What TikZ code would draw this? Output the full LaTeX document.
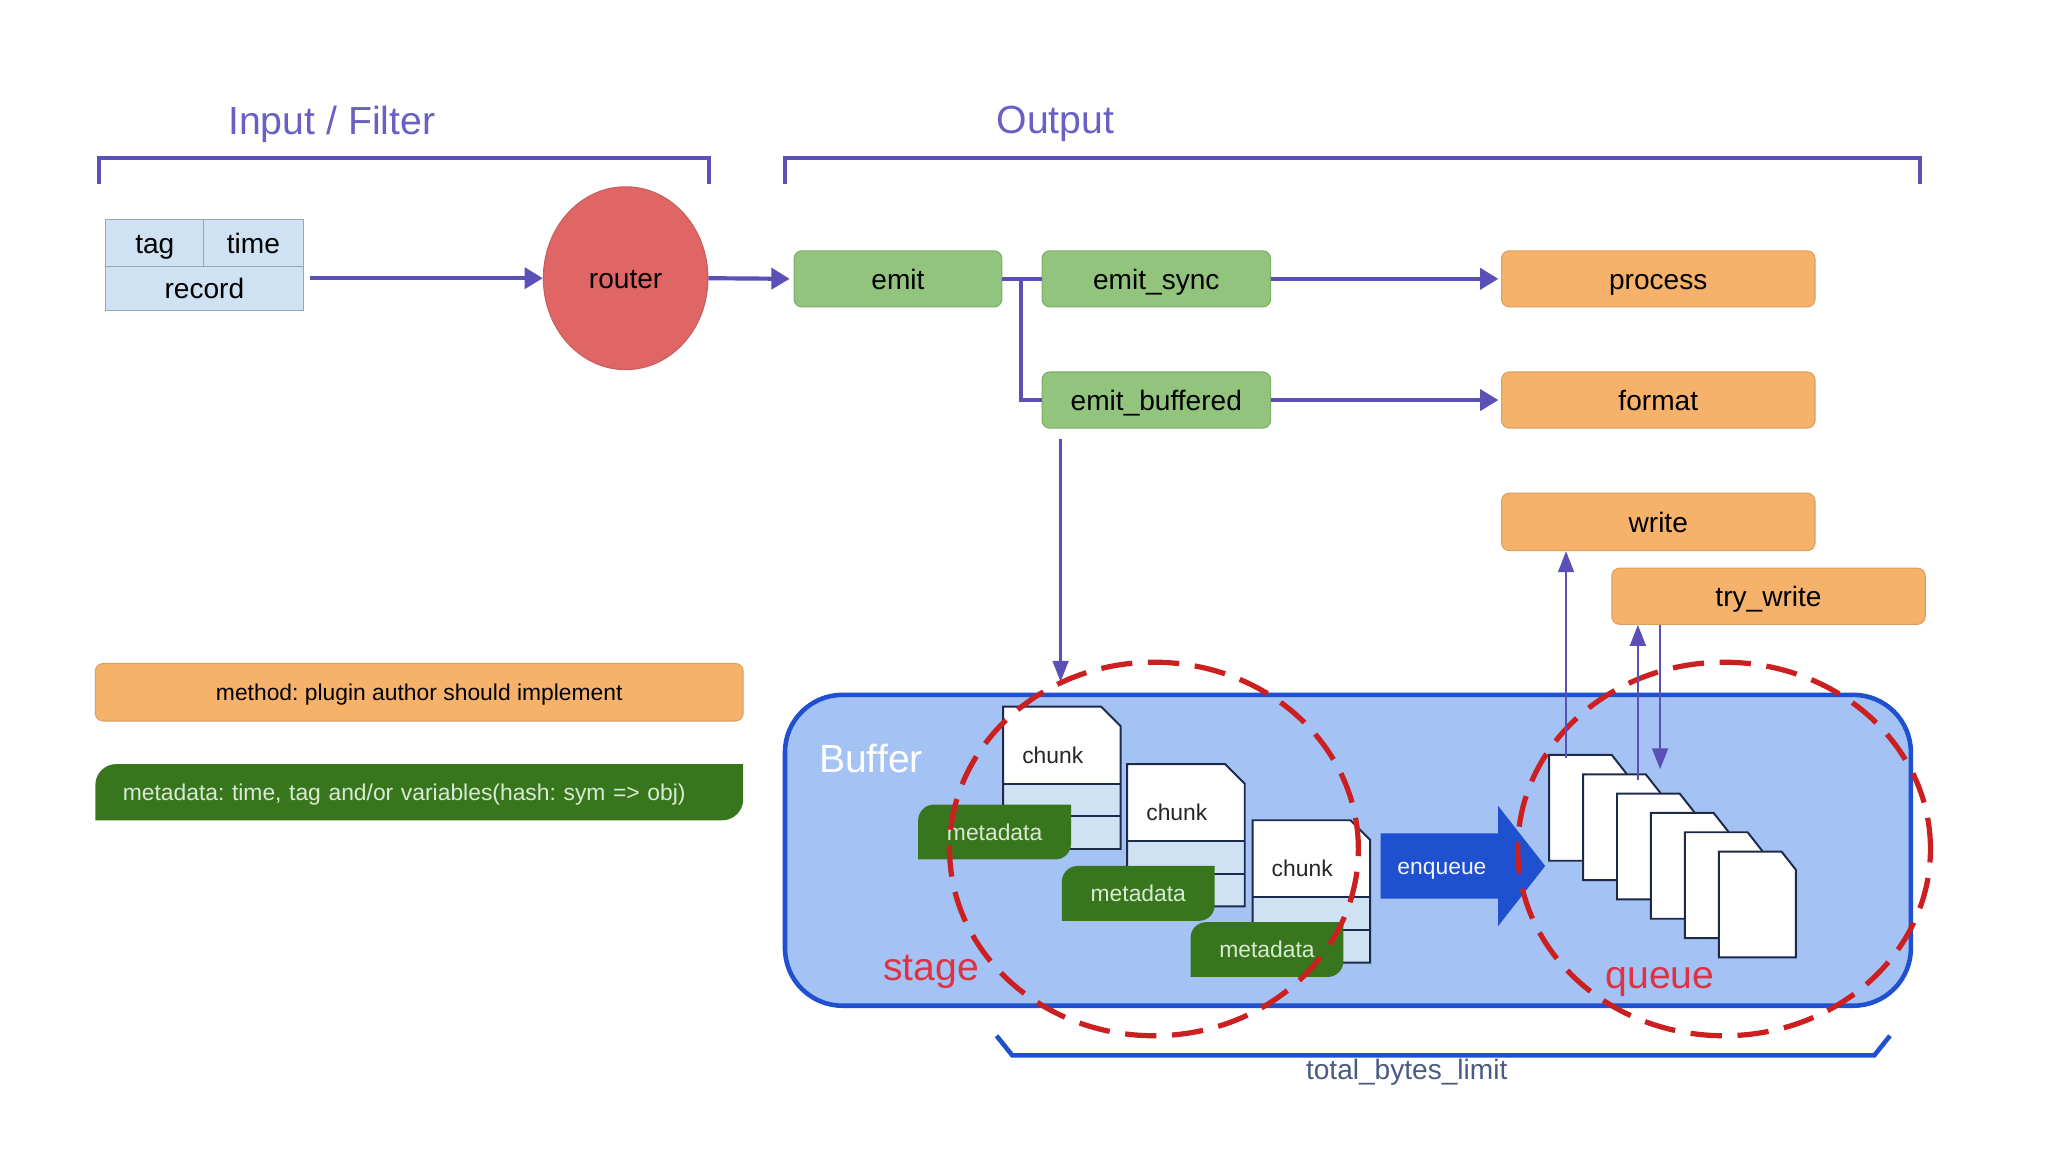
\documentclass[tikz,border=0pt]{standalone}
\usepackage{fontspec}
\setmainfont{Liberation Sans}
\frenchspacing
\usetikzlibrary{positioning,arrows.meta,shapes.geometric}

\definecolor{flowc}{HTML}{5B4FB8}
\definecolor{titlec}{HTML}{6A60C4}
\definecolor{cellc}{HTML}{CFE2F3}
\definecolor{cellline}{HTML}{9AA5AE}
\definecolor{routerc}{HTML}{E06666}
\definecolor{routerline}{HTML}{C95C5C}
\definecolor{greenc}{HTML}{93C47D}
\definecolor{greenline}{HTML}{7DAE67}
\definecolor{orangec}{HTML}{F6B26B}
\definecolor{orangeline}{HTML}{D9A05E}
\definecolor{metac}{HTML}{38761D}
\definecolor{metatext}{HTML}{D9EAD3}
\definecolor{bufferc}{HTML}{A4C2F4}
\definecolor{bufferline}{HTML}{1F50D0}
\definecolor{chunkline}{HTML}{1C2A4A}
\definecolor{dashc}{HTML}{CC1F1F}
\definecolor{stagec}{HTML}{DD3344}
\definecolor{limitc}{HTML}{4A5A82}

\tikzset{
	big/.style={font=\fontsize{15}{18}\selectfont},
	mid/.style={font=\fontsize{10.75}{13}\selectfont,text height=9.3pt,text depth=1.5pt},
	small/.style={font=\fontsize{8.75}{10.5}\selectfont,text height=7.6pt,text depth=1.4pt},
	cell/.style={draw=cellline,fill=cellc,inner sep=0,outer sep=0,mid},
	emitbox/.style={draw=greenline,fill=greenc,rounded corners=3pt,
		minimum width=87.5pt,minimum height=21.5pt,mid},
	methodbox/.style={draw=orangeline,fill=orangec,rounded corners=3pt,
		minimum width=120pt,minimum height=21.5pt,mid},
	metatag/.style={minimum height=21pt,inner sep=0,text=metatext,small,
		path picture={
			\coordinate (tl) at (path picture bounding box.north west);
			\coordinate (br) at (path picture bounding box.south east);
			\clip[rounded corners=#1] (tl) rectangle ([xshift=#1,yshift=-#1]br);
			\fill[metac,rounded corners=#1] ([xshift=-#1,yshift=#1]tl) rectangle (br);
		}},
	metatag/.default=6pt,
	flow/.style={draw=flowc,line width=1.6pt,-{Triangle[length=7pt,width=8pt]}},
	link/.style={draw=flowc,line width=1.6pt},
	call/.style={draw=flowc,line width=1pt,-{Triangle[length=8pt,width=6pt]}},
	bracket/.style={draw=flowc,line width=1.5pt},
	ring/.style={ellipse,draw=dashc,line width=2pt,dash pattern=on 12pt off 6pt},
	docline/.style={draw=chunkline,line width=0.75pt}
}

\begin{document}
\begin{tikzpicture}[x=0.5pt,y=-0.5pt]
	\useasboundingbox (0,0) rectangle (1568,882);

	% section headers
	\node[big,text=titlec] (inputtitle) at (254,95) {Input / Filter};
	\node[big,text=titlec] (outputtitle) at (808,95) {Output};
	\draw[bracket] (76,141) -- (76,121) -- (543,121) -- (543,141);
	\draw[bracket] (601,141) -- (601,121) -- (1470,121) -- (1470,141);

	% event
	\node[cell,minimum width=37.5pt,minimum height=18pt] (tag) at (118.5,186) {tag};
	\node[cell,minimum width=38pt,minimum height=18pt,right=0pt of tag] (time) {time};
	\node[cell,minimum width=75.5pt,minimum height=17pt,anchor=north west] (record) at (tag.south west) {record};

	\node[ellipse,draw=routerline,fill=routerc,minimum width=63pt,minimum height=70pt,mid] (router) at (479,213) {router};

	% output methods
	\node[emitbox,minimum width=79.5pt] (emit) at (687.5,213.5) {emit};
	\node[emitbox,right=15pt of emit] (emitsync) {emit\_sync};
	\node[emitbox,below=24.5pt of emitsync] (emitbuf) {emit\_buffered};
	\node[methodbox,right=88pt of emitsync] (process) {process};
	\node[methodbox,below=24.5pt of process] (format) {format};
	\node[methodbox,below=24.5pt of format,minimum height=22pt] (write) {write};
	\node[methodbox] (trywrite) at (1354,456.5) {try\_write};

	\draw[flow,shorten <=2.5pt] (record.east |- router.west) -- (router.west);
	\draw[flow,shorten >=1.5pt] (router.east) -- (emit.west);
	\draw[link] (emit.east) -- (emitsync.west);
	\draw[link] ([xshift=7pt]emit.east) |- (emitbuf.west);
	\draw[flow,shorten >=1pt] (emitsync.east) -- (process.west);
	\draw[flow,shorten >=1pt] (emitbuf.east) -- (format.west);

	% legend
	\node[methodbox,small,minimum width=248pt,minimum height=22pt] (legendmethod) at (321,530) {method: plugin author should implement};
	\node[metatag=8pt,minimum width=248pt,minimum height=21.5pt,text width=227pt,inner xsep=10.5pt,align=left] (legendmeta) at (321,606.5) {metadata: time, tag and/or variables(hash: sym => obj)};

	% buffer
	\node[draw=bufferline,fill=bufferc,line width=1.75pt,rounded corners=22pt,minimum width=431pt,minimum height=119pt] (buffer) at (1032,651) {};
	\node[big,text=white,anchor=west] (bufferlabel) at (620,581) {Buffer};

	\coordinate (stagein) at (812,522);
	\draw[call,shorten <=4pt] (emitbuf.south -| stagein) -- (stagein);

	% chunks in stage
	\foreach \x/\y/\n in {768/541/1,863/585/2,959/628/3}{
		\fill[white] (\x,\y) -- ++(75,0) -- ++(15,15) -- ++(0,44) -- ++(-90,0) -- cycle;
		\fill[cellc] (\x,\y+59) rectangle ++(90,50);
		\draw[docline] (\x,\y) -- ++(75,0) -- ++(15,15) -- ++(0,94) -- ++(-90,0) -- cycle;
		\draw[docline] (\x,\y+59) -- ++(90,0);
		\draw[docline] (\x,\y+84) -- ++(90,0);
		\node[small,text=black!85] (chunk\n) at (\x+38,\y+37) {chunk};
	}
	\node[metatag,minimum width=58.5pt] (meta1) at (761.5,637) {metadata};
	\node[metatag,minimum width=58.5pt] (meta2) at (871.5,684) {metadata};
	\node[metatag,minimum width=58.5pt] (meta3) at (970,727) {metadata};

	\node[ring,minimum width=156.5pt,minimum height=143pt] (stage) at (883.5,650) {};
	\node[big,text=stagec] (stagelabel) at (713,744) {stage};

	% enqueue
	\fill[bufferline] (1057,638) -- (1147,638) -- (1147,617) -- (1183,663) -- (1147,709) -- (1147,688) -- (1057,688) -- cycle;
	\node[small,text=white!85!bufferc] (enqueue) at (1104,663) {enqueue};

	% chunks in queue
	\foreach \i in {0,...,5}{
		\draw[docline,fill=white] ({1186+26*\i},{578+14.8*\i}) -- ++(48,0) -- ++(11,14) -- ++(0,67) -- ++(-59,0) -- cycle;
	}
	\node[ring,minimum width=158pt,minimum height=143pt] (queue) at (1320,650) {};
	\node[big,text=stagec] (queuelabel) at (1271,752) {queue};

	\coordinate (up1) at (1199,580);
	\coordinate (up2) at (1254,597);
	\coordinate (down2) at (1271,589);
	\draw[call] (up1) -- (up1 |- write.south);
	\draw[call] (up2) -- (up2 |- trywrite.south);
	\draw[call] (down2 |- trywrite.south) -- (down2);

	% limit
	\node[mid,text=limitc] (limitlabel) at (1077,819) {total\_bytes\_limit};
	\draw[draw=bufferline,line width=1.75pt] (763,793) -- (775,808) -- (1435,808) -- (1447,793);
\end{tikzpicture}
\end{document}
